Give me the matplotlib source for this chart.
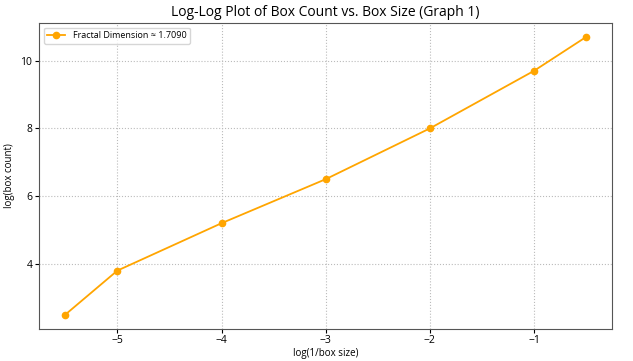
import matplotlib
matplotlib.use("Agg")
import matplotlib.pyplot as plt

plt.rcParams['font.family'] = ['Open Sans', 'DejaVu Sans']

log_inv_size = [-5.5, -5, -4, -3, -2, -1, -0.5]
log_count = [2.5, 3.8, 5.2, 6.5, 8.0, 9.7, 10.7]
label = "Fractal Dimension \u2248 1.7090"

fig, ax = plt.subplots(figsize=(6.33, 3.61), dpi=100)
ax.plot(log_inv_size, log_count, marker='o', color='orange', linewidth=1.3, markersize=4.5, label=label)
ax.set_title("Log-Log Plot of Box Count vs. Box Size (Graph 1)", fontsize=10, pad=5)
ax.set_xlabel("log(1/box size)", fontsize=7, labelpad=1)
ax.set_ylabel("log(box count)", fontsize=7, labelpad=4)
ax.tick_params(labelsize=7.5, length=3, pad=2)
ax.grid(True, linestyle=':', color='#bbbbbb', linewidth=0.8)
for s in ax.spines.values():
    s.set_color('#555555')
ax.set_yticks([4, 6, 8, 10])
ax.legend(loc='upper left', fontsize=6.5)
fig.subplots_adjust(left=0.062, right=0.967, top=0.936, bottom=0.09)
fig.savefig("out.png", dpi=100)
